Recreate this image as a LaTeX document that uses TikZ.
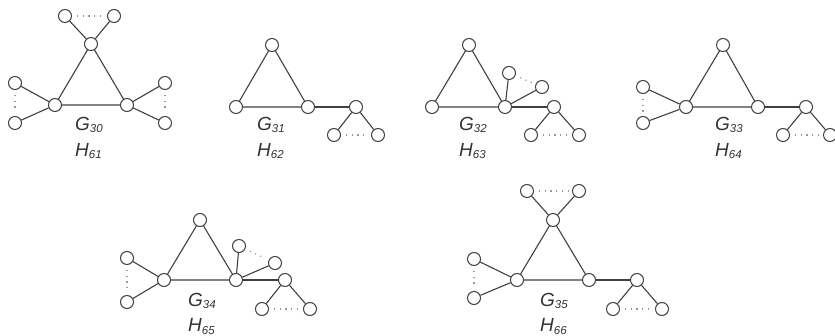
\documentclass[tikz,border=0pt]{standalone}
\usepackage{fontspec}
\setsansfont{Liberation Sans}
\usepackage{tikz}

\newcommand{\glab}[2]{{\sffamily\itshape\fontsize{19}{22}\selectfont #1\raisebox{-2pt}{\fontsize{11.5}{12}\selectfont #2}}}

\begin{document}
\begin{tikzpicture}[x=1pt, y=-1pt,
		vtx/.style={circle, draw=black!75, line width=1pt, fill=white, minimum size=13pt, inner sep=0pt},
		edge/.style={draw=black!75, line width=1.1pt},
		dots/.style={draw=black!40, line width=1.2pt, dash pattern=on 1.2pt off 4.5pt, shorten <=5pt, shorten >=4pt},
		lab/.style={anchor=base west, inner sep=0pt, text=black!80}]
		\useasboundingbox (0,0) rectangle (835,336) ;
		% G30
		\node[vtx] (a1) at (65,16) {} ;
		\node[vtx] (a2) at (114,16) {} ;
		\node[vtx] (a3) at (91,44) {} ;
		\node[vtx] (a4) at (55,105) {} ;
		\node[vtx] (a5) at (127,105) {} ;
		\node[vtx] (a6) at (15,83) {} ;
		\node[vtx] (a7) at (15,123) {} ;
		\node[vtx] (a8) at (165,83) {} ;
		\node[vtx] (a9) at (165,123) {} ;
		\draw[edge] (a3) -- (a4) -- (a5) -- (a3) ;
		\draw[edge] (a1) -- (a3) -- (a2) ;
		\draw[edge] (a6) -- (a4) -- (a7) ;
		\draw[edge] (a8) -- (a5) -- (a9) ;
		\draw[dots] (a1) -- (a2) ;
		\draw[dots] (a6) -- (a7) ;
		\draw[dots] (a8) -- (a9) ;
		\node[lab] (G30) at (75,131) {\glab{G}{30}} ;
		\node[lab] (H61) at (75,157) {\glab{H}{61}} ;
		% G31
		\node[vtx] (b1) at (272,45) {} ;
		\node[vtx] (b2) at (236,107) {} ;
		\node[vtx] (b3) at (308,107) {} ;
		\node[vtx] (b4) at (356,107) {} ;
		\node[vtx] (b5) at (334,135) {} ;
		\node[vtx] (b6) at (378,135) {} ;
		\draw[edge] (b1) -- (b2) -- (b3) -- (b1) ;
		\draw[edge] (b3) -- (b4) ;
		\draw[edge] (b5) -- (b4) -- (b6) ;
		\draw[dots] (b5) -- (b6) ;
		\node[lab] (G31) at (257,131) {\glab{G}{31}} ;
		\node[lab] (H62) at (257,157) {\glab{H}{62}} ;
		% G32
		\node[vtx] (c1) at (469,45) {} ;
		\node[vtx] (c2) at (432,107) {} ;
		\node[vtx] (c3) at (505,107) {} ;
		\node[vtx] (c4) at (509,73) {} ;
		\node[vtx] (c5) at (542,87) {} ;
		\node[vtx] (c6) at (554,107) {} ;
		\node[vtx] (c7) at (531,135) {} ;
		\node[vtx] (c8) at (579,135) {} ;
		\draw[edge] (c1) -- (c2) -- (c3) -- (c1) ;
		\draw[edge] (c4) -- (c3) -- (c5) ;
		\draw[edge] (c3) -- (c6) ;
		\draw[edge] (c7) -- (c6) -- (c8) ;
		\draw[dots] (c4) -- (c5) ;
		\draw[dots] (c7) -- (c8) ;
		\node[lab] (G32) at (459,131) {\glab{G}{32}} ;
		\node[lab] (H63) at (459,157) {\glab{H}{63}} ;
		% G33
		\node[vtx] (d1) at (723,45) {} ;
		\node[vtx] (d2) at (686,107) {} ;
		\node[vtx] (d3) at (758,107) {} ;
		\node[vtx] (d4) at (806,107) {} ;
		\node[vtx] (d5) at (783,135) {} ;
		\node[vtx] (d6) at (830,135) {} ;
		\node[vtx] (d7) at (643,87) {} ;
		\node[vtx] (d8) at (643,123) {} ;
		\draw[edge] (d1) -- (d2) -- (d3) -- (d1) ;
		\draw[edge] (d3) -- (d4) ;
		\draw[edge] (d5) -- (d4) -- (d6) ;
		\draw[edge] (d7) -- (d2) -- (d8) ;
		\draw[dots] (d5) -- (d6) ;
		\draw[dots] (d7) -- (d8) ;
		\node[lab] (G33) at (715,131) {\glab{G}{33}} ;
		\node[lab] (H64) at (715,157) {\glab{H}{64}} ;
		% G34
		\node[vtx] (e1) at (200,220) {} ;
		\node[vtx] (e2) at (164,280) {} ;
		\node[vtx] (e3) at (236,280) {} ;
		\node[vtx] (e4) at (239,246) {} ;
		\node[vtx] (e5) at (275,263) {} ;
		\node[vtx] (e6) at (285,280) {} ;
		\node[vtx] (e7) at (262,309) {} ;
		\node[vtx] (e8) at (310,309) {} ;
		\node[vtx] (e9) at (127,258) {} ;
		\node[vtx] (e10) at (127,302) {} ;
		\draw[edge] (e1) -- (e2) -- (e3) -- (e1) ;
		\draw[edge] (e4) -- (e3) -- (e5) ;
		\draw[edge] (e3) -- (e6) ;
		\draw[edge] (e7) -- (e6) -- (e8) ;
		\draw[edge] (e9) -- (e2) -- (e10) ;
		\draw[dots] (e4) -- (e5) ;
		\draw[dots] (e7) -- (e8) ;
		\draw[dots] (e9) -- (e10) ;
		\node[lab] (G34) at (188,307) {\glab{G}{34}} ;
		\node[lab] (H65) at (188,332) {\glab{H}{65}} ;
		% G35
		\node[vtx] (f1) at (527,191) {} ;
		\node[vtx] (f2) at (579,191) {} ;
		\node[vtx] (f3) at (553,220) {} ;
		\node[vtx] (f4) at (517,280) {} ;
		\node[vtx] (f5) at (589,280) {} ;
		\node[vtx] (f6) at (637,280) {} ;
		\node[vtx] (f7) at (613,309) {} ;
		\node[vtx] (f8) at (662,309) {} ;
		\node[vtx] (f9) at (474,259) {} ;
		\node[vtx] (f10) at (474,298) {} ;
		\draw[edge] (f3) -- (f4) -- (f5) -- (f3) ;
		\draw[edge] (f1) -- (f3) -- (f2) ;
		\draw[edge] (f5) -- (f6) ;
		\draw[edge] (f7) -- (f6) -- (f8) ;
		\draw[edge] (f9) -- (f4) -- (f10) ;
		\draw[dots] (f1) -- (f2) ;
		\draw[dots] (f7) -- (f8) ;
		\draw[dots] (f9) -- (f10) ;
		\node[lab] (G35) at (540,307) {\glab{G}{35}} ;
		\node[lab] (H66) at (540,332) {\glab{H}{66}} ;
\end{tikzpicture}
\end{document}
